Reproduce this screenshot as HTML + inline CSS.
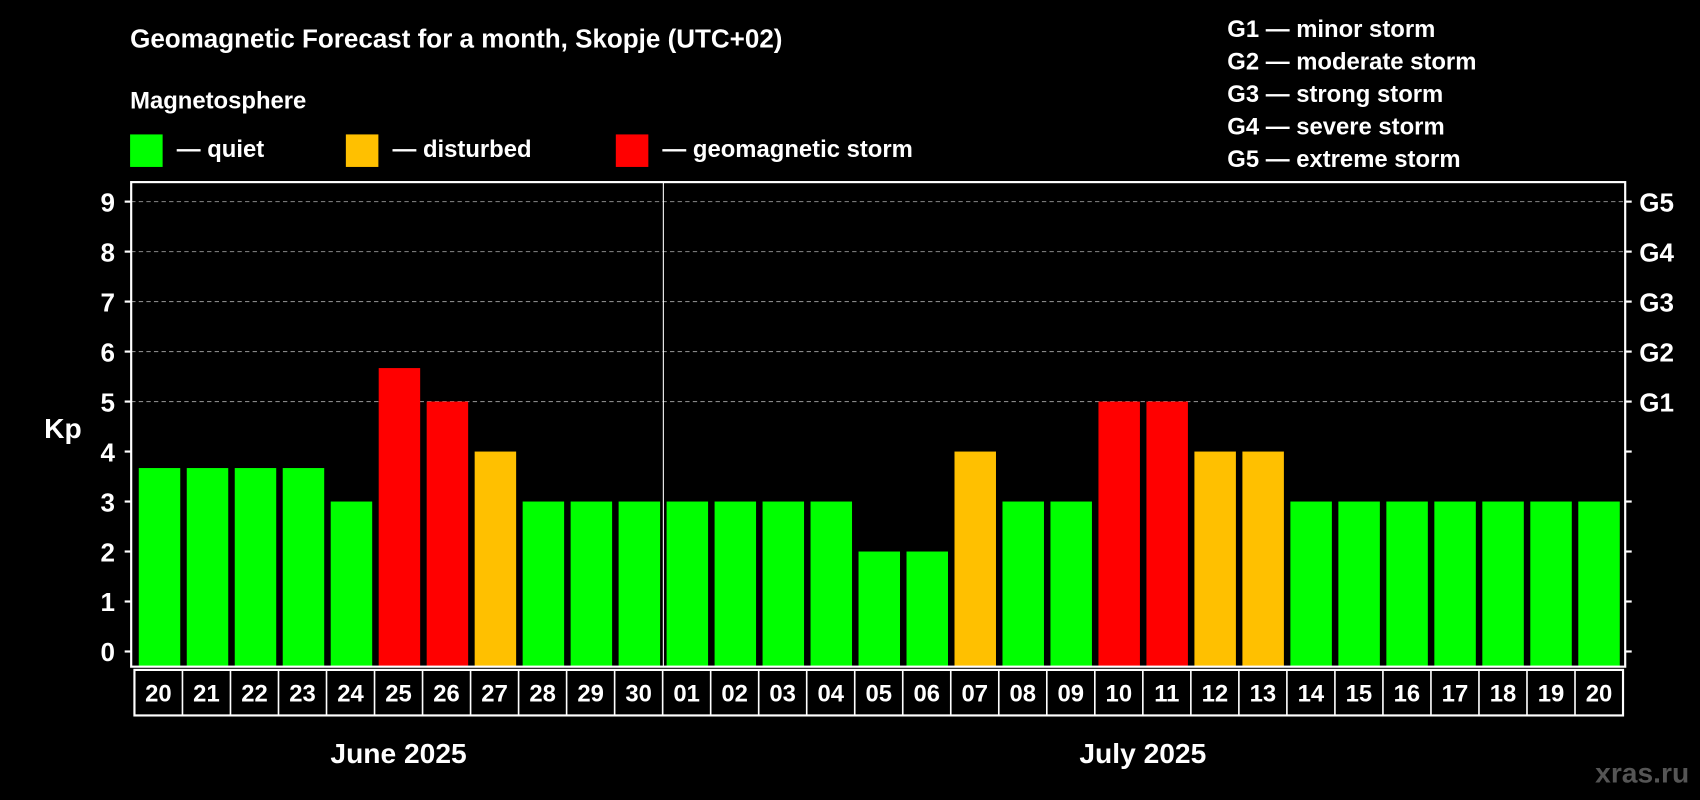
<!DOCTYPE html>
<html><head><meta charset="utf-8"><style>
html,body{margin:0;padding:0;background:#000;}
svg{display:block;font-family:"Liberation Sans",Arial,sans-serif;font-weight:bold;}
</style></head><body>
<svg id="chart" width="1700" height="800" viewBox="0 0 1568 738" preserveAspectRatio="none" xmlns="http://www.w3.org/2000/svg">
<rect width="1568" height="738" fill="#000"/>
<text x="120" y="44" fill="#fff" font-size="24">Geomagnetic Forecast for a month, Skopje (UTC+02)</text>
<text x="120" y="100" fill="#fff" font-size="22">Magnetosphere</text>
<g>
<rect x="120" y="124" width="30" height="30" fill="#00ff00"/>
<text x="163" y="145" fill="#fff" font-size="22">— quiet</text>
<rect x="319" y="124" width="30" height="30" fill="#ffc000"/>
<text x="362" y="145" fill="#fff" font-size="22">— disturbed</text>
<rect x="568" y="124" width="30" height="30" fill="#ff0000"/>
<text x="611" y="145" fill="#fff" font-size="22">— geomagnetic storm</text>
</g>
<g fill="#fff" font-size="22">
<text x="1132" y="34">G1 — minor storm</text>
<text x="1132" y="64">G2 — moderate storm</text>
<text x="1132" y="94">G3 — strong storm</text>
<text x="1132" y="124">G4 — severe storm</text>
<text x="1132" y="154">G5 — extreme storm</text>
</g>
<g id="grid"></g>
<g id="bars"></g>
<g id="axes"></g>
<text x="58" y="404" fill="#fff" font-size="26" text-anchor="middle">Kp</text>
<text x="1558" y="722" fill="#555" font-size="26" text-anchor="end">xras.ru</text>
</svg>
<script>
const days = ["20","21","22","23","24","25","26","27","28","29","30","01","02","03","04","05","06","07","08","09","10","11","12","13","14","15","16","17","18","19","20"];
const kpValues = [3.67,3.67,3.67,3.67,3,5.67,5,4,3,3,3,3,3,3,3,2,2,4,3,3,5,5,4,4,3,3,3,3,3,3,3];
const yTicks = ["0","1","2","3","4","5","6","7","8","9"];
const gLevels = ["G1","G2","G3","G4","G5"];
const months = ["June 2025","July 2025"];
const monthDayCounts = [11,20];

const NS="http://www.w3.org/2000/svg";
const L=121,R=1499,T=168,B=615;
const y0=601,yPer=(601-186)/9;
const pitch=(R-L-6)/days.length;
const x0=L+5;
function yScale(v){return y0-v*yPer;}
function xScale(i){return x0+i*pitch;}
function mk(tag,attrs,parent){const e=document.createElementNS(NS,tag);for(const k in attrs)e.setAttribute(k,attrs[k]);parent.appendChild(e);return e;}
function colorFor(v){return v>=5?"#ff0000":(v>=4?"#ffc000":"#00ff00");}

const grid=document.getElementById('grid'),bars=document.getElementById('bars'),axes=document.getElementById('axes');
// gridlines
for(let k=5;k<=9;k++){
  const l=mk('line',{x1:L,x2:R,y1:yScale(k),y2:yScale(k),stroke:"#888","stroke-dasharray":"4,3","stroke-width":1},grid);
  
  
}
// bars
kpValues.forEach((v,i)=>{
  const r=mk('rect',{x:xScale(i)+2,y:yScale(v),width:pitch-6,height:B-yScale(v),fill:colorFor(v)},bars);
  
  
});
// plot frame
const fr=mk('rect',{x:L,y:T,width:R-L,height:B-T,fill:"none",stroke:"#fff","stroke-width":2},axes);


// month divider
const divX=xScale(monthDayCounts[0])-1;
const dv=mk('line',{x1:divX,x2:divX,y1:T,y2:B,stroke:"#fff","stroke-width":1},axes);


// y ticks
yTicks.forEach((t,k)=>{
  const y=yScale(k);
  mk('line',{x1:L-6,x2:L,y1:y,y2:y,stroke:"#fff","stroke-width":2},axes);
  mk('line',{x1:R,x2:R+6,y1:y,y2:y,stroke:"#fff","stroke-width":2},axes);
  const tx=mk('text',{x:106,y:y+9,fill:"#fff","font-size":24,"text-anchor":"end"},axes);
  tx.textContent=t;
  
  
});
gLevels.forEach((g,j)=>{
  const tx=mk('text',{x:1512,y:yScale(5+j)+9,fill:"#fff","font-size":24},axes);
  tx.textContent=g;
  
  
});
// day label cells
const cellL=124,cellR=1497,cw=(cellR-cellL)/days.length;
mk('rect',{x:cellL,y:618,width:cellR-cellL,height:42,fill:"none",stroke:"#fff","stroke-width":2},axes);
days.forEach((d,i)=>{
  if(i>0) mk('line',{x1:cellL+i*cw,x2:cellL+i*cw,y1:618,y2:660,stroke:"#fff","stroke-width":1.5},axes);
  const tx=mk('text',{x:cellL+(i+0.5)*cw,y:647,fill:"#fff","font-size":22,"text-anchor":"middle"},axes);
  tx.textContent=d;
  
  
});
// month labels
let start=0;
months.forEach((m,j)=>{
  const n=monthDayCounts[j];
  const cx=cellL+(start+n/2)*cw;
  const tx=mk('text',{x:cx,y:704,fill:"#fff","font-size":26,"text-anchor":"middle"},axes);
  tx.textContent=m;
  
  
  start+=n;
});
</script>
</body></html>
